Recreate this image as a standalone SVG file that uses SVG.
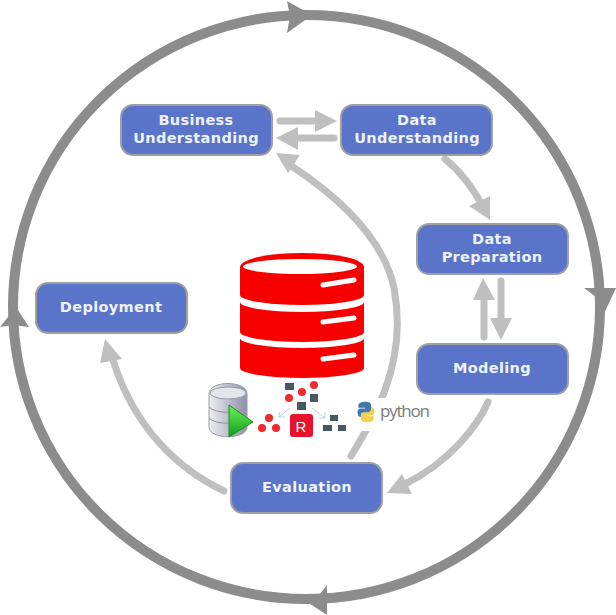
<svg xmlns="http://www.w3.org/2000/svg" width="616" height="615" viewBox="0 0 616 615">
<style>
.box{fill:#5a74c9;stroke:#a0a0a0;stroke-width:2}
.lbl{font-family:"DejaVu Sans",sans-serif;font-weight:700;font-size:14.500px;letter-spacing:.35px;fill:#eef2fb;text-anchor:middle}
.ring{fill:none;stroke:#8c8c8c;stroke-width:10}
.rh{fill:#8c8c8c}
.ar{fill:none;stroke:#bfbfbf;stroke-width:7;stroke-linecap:round}
.ah{fill:#bfbfbf}
.dk{fill:#47585f}
.rd{fill:#f02a2a}
</style>
<defs>
<linearGradient id="dbg" x1="0" x2="1" y1="0" y2="0"><stop offset="0" stop-color="#eceef2"/><stop offset="1" stop-color="#8f90ab"/></linearGradient>
<linearGradient id="gr" x1="0" x2="0" y1="0" y2="1"><stop offset="0" stop-color="#6cf05a"/><stop offset="1" stop-color="#0f9f1a"/></linearGradient>
</defs>
<rect width="616" height="615" fill="#fff"/>
<g id="cycle">
<ellipse class="ring" cx="306.500" cy="307" rx="293.500" ry="292"/>
<path class="rh" d="M287 1L312 15L287 33L290 16Z"/>
<path class="rh" d="M584 288H616L601 320L600 300Z"/>
<path class="rh" d="M327 585V615L304 600L316 599Z"/>
<path class="rh" d="M0 327L16 307L29 327L13 325Z"/>
</g>
<g id="connectors">
<path class="ar" d="M280 121H320"/><path class="ah" d="M315 110L337 121L315 132Z"/>
<path class="ar" d="M334 138H296"/><path class="ah" d="M298 127L276 138L298 150Z"/>
<path class="ar" d="M445 159C460 171 473 188 483 207"/><path class="ah" d="M469 206L490 196L490 220Z"/>
<path class="ar" d="M484 337V296"/><path class="ah" d="M473 300L483 278L495 300Z"/>
<path class="ar" d="M501 281V322"/><path class="ah" d="M490 318H512L501 340Z"/>
<path class="ar" d="M488 402C478 425 450 462 405 484"/><path class="ah" d="M387 493L402 474L412 494Z"/>
<path class="ar" d="M351 456C368 428 378 410 385 390C398 355 400 320 394 288C385 245 350 205 293 167"/><path class="ah" d="M276 153L300 155L288 173Z"/>
<path class="ar" d="M224 491C180 470 135 430 113 360"/><path class="ah" d="M105 339L122 359L100 363Z"/>
</g>
<g id="business-understanding"><rect class="box" x="121" y="105" width="151" height="50" rx="12"/><text class="lbl" x="196" y="125">Business</text><text class="lbl" x="196" y="143">Understanding</text></g>
<g id="data-understanding"><rect class="box" x="341" y="105" width="151" height="50" rx="12"/><text class="lbl" x="417" y="125">Data</text><text class="lbl" x="417" y="143">Understanding</text></g>
<g id="data-preparation"><rect class="box" x="417" y="224" width="151" height="50" rx="12"/><text class="lbl" x="492" y="244">Data</text><text class="lbl" x="492" y="262">Preparation</text></g>
<g id="modeling"><rect class="box" x="417" y="344" width="151" height="50" rx="12"/><text class="lbl" x="492" y="373">Modeling</text></g>
<g id="evaluation"><rect class="box" x="231" y="463" width="151" height="50" rx="12"/><text class="lbl" x="307" y="492">Evaluation</text></g>
<g id="deployment"><rect class="box" x="36" y="283" width="151" height="50" rx="12"/><text class="lbl" x="111" y="312">Deployment</text></g>
<g id="database">
<path fill="#f80000" d="M240 267A62 14 0 0 1 364 267V295A62 10 0 0 1 240 295Z"/>
<path fill="#f80000" d="M240 302A62 10 0 0 0 364 302V332A62 10 0 0 1 240 332Z"/>
<path fill="#f80000" d="M240 338A62 10 0 0 0 364 338V368A62 10 0 0 1 240 368Z"/>
<ellipse cx="300" cy="266.500" rx="57" ry="7.500" fill="#fff"/>
<path d="M323 285L354 280M323 322L354 318M323 359L354 355" fill="none" stroke="#fff" stroke-width="5" stroke-linecap="round"/>
</g>
<g id="icons">
<rect x="355" y="398" width="85" height="33" fill="#fff"/>
<path fill="url(#dbg)" stroke="#9a9ba5" d="M209 394C209 380 247 380 247 394V427C247 440 209 440 209 427Z"/>
<ellipse cx="228" cy="393" rx="18" ry="6" fill="#e4e5ec" stroke="#9a9ba5"/>
<path d="M209 407C215 414 240 414 247 407M209 418C215 425 240 425 247 418" fill="none" stroke="#8d8f9a" stroke-width="1"/>
<path d="M229 405L253 422L229 437Z" fill="url(#gr)" stroke="#1f8a1c"/>
<g class="dk"><rect x="285" y="383" width="9" height="7"/><rect x="310" y="394" width="8" height="8"/><rect x="297" y="402" width="9" height="8"/><rect x="330" y="415" width="8" height="6"/><rect x="323" y="425" width="9" height="6"/><rect x="338" y="425" width="8" height="6"/></g>
<g class="rd"><circle cx="314" cy="385" r="4"/><circle cx="302" cy="392" r="4"/><circle cx="289" cy="398" r="4"/><circle cx="269" cy="418" r="4"/><circle cx="262" cy="428" r="4"/><circle cx="276" cy="428" r="4"/></g>
<path d="M290 408L279 417M279 412V417H285M312 408L325 418M325 412V418H319" fill="none" stroke="#b7cfe0" stroke-width="1"/>
<rect x="290" y="414" width="23" height="23" rx="3" fill="#e8132a"/>
<text x="301" y="432" font-family="'Liberation Sans',sans-serif" font-size="15" fill="#fff" text-anchor="middle">R</text>
<g transform="translate(366 412) scale(.85 .76) translate(-367 -413.500)">
<path d="M367 400C361 400 358 402 358 405V408H366V409H361C358 409 357 411 357 414C357 418 359 420 361 420V417C361 415 363 414 365 414H370C372 414 373 412 373 410V405C373 402 371 400 367 400Z" fill="#3f78ac"/>
<path d="M367 427C373 427 376 425 376 422V419H368V418H373C376 418 377 416 377 413C377 409 375 407 373 407V410C373 412 371 414 369 414H364C362 414 361 415 361 417V422C361 425 363 427 367 427Z" fill="#f5cf4b"/>
</g>
<text x="380" y="417" font-family="'Open Sans',sans-serif" font-size="17" fill="#7a7a7a" textLength="50">python</text>
</g>
</svg>
